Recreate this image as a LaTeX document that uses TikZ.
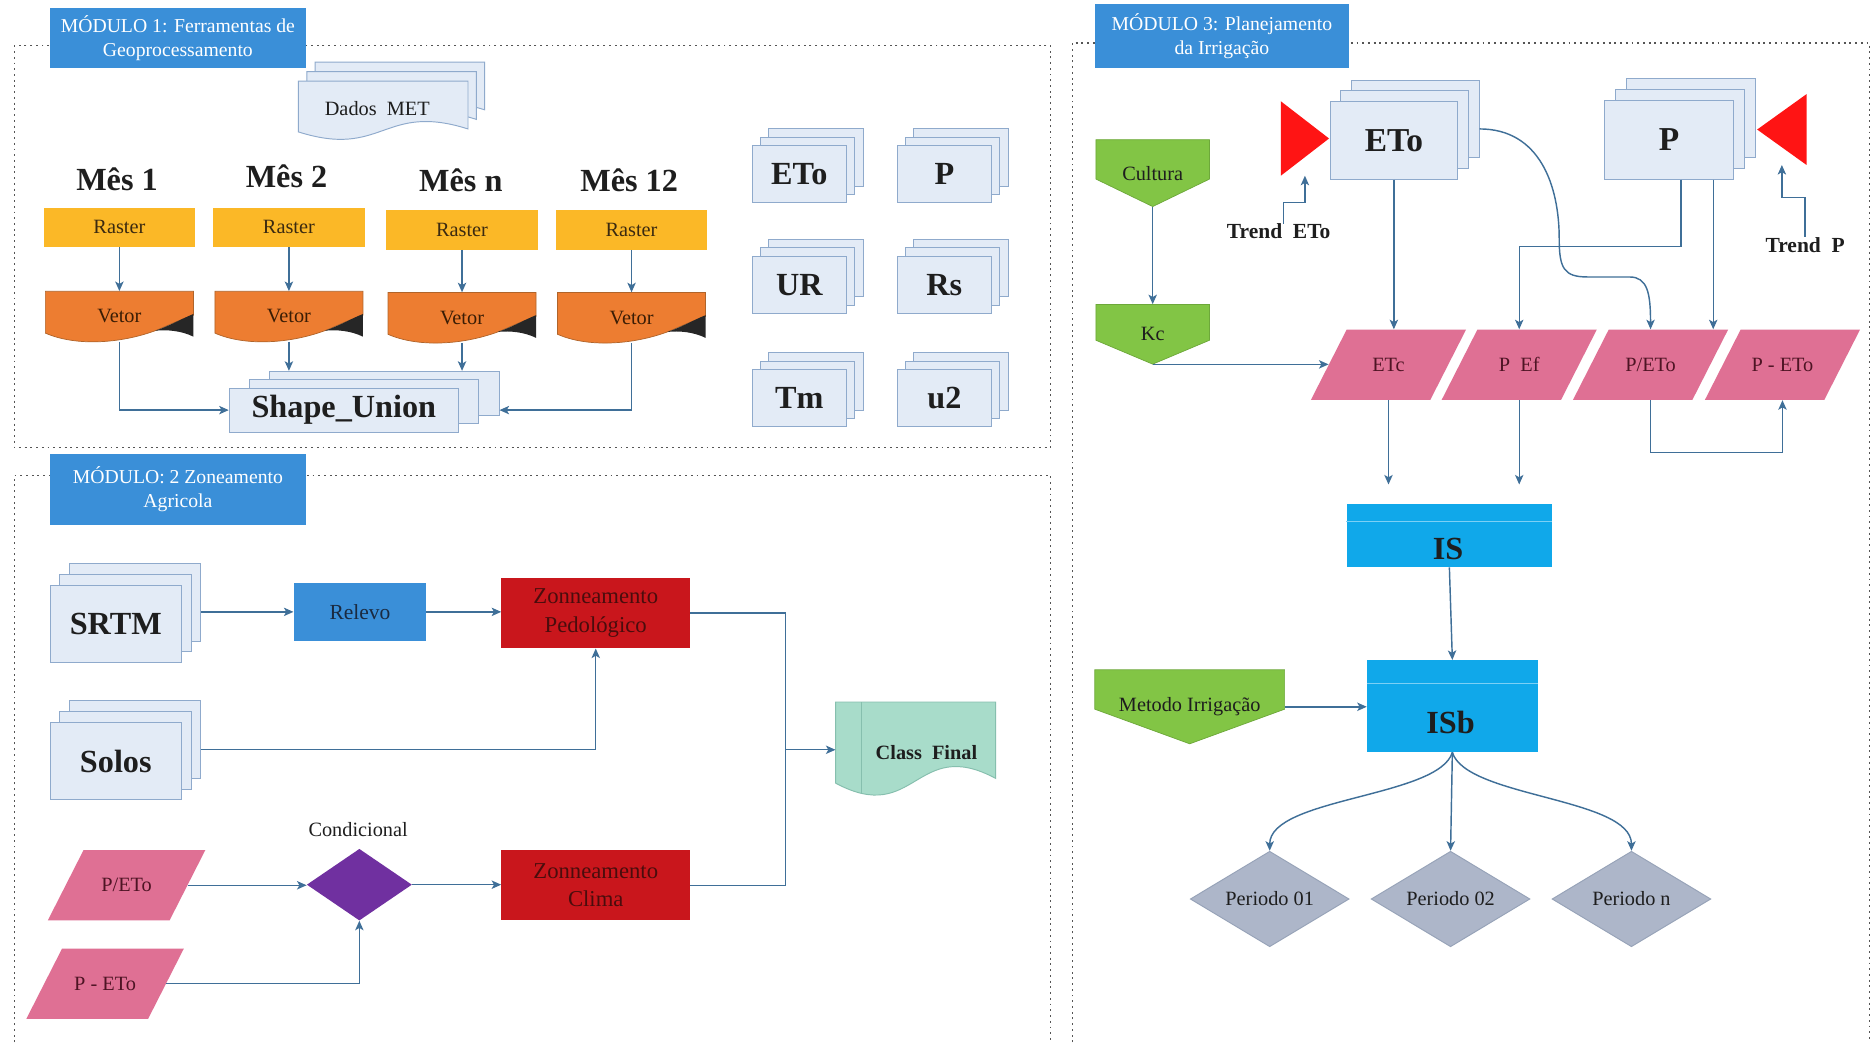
\documentclass[tikz,border=0pt]{standalone}
\usepackage{fontspec}
\setmainfont{Liberation Serif}
\usetikzlibrary{shapes.geometric,arrows.meta,calc}

\definecolor{arrowc}{HTML}{3F6F98}
\definecolor{framec}{HTML}{555555}
\definecolor{modblue}{HTML}{3A8FD8}
\definecolor{rasterc}{HTML}{FBB827}
\definecolor{rastertext}{HTML}{3B2A10}
\definecolor{vetorc}{HTML}{ED7D31}
\definecolor{vetord}{HTML}{B0642A}
\definecolor{vetortext}{HTML}{3A1D05}
\definecolor{pagefill}{HTML}{E3EBF6}
\definecolor{pagedraw}{HTML}{8FAACC}
\definecolor{textc}{HTML}{1E1E1E}
\definecolor{relevotext}{HTML}{1A2A40}
\definecolor{zonred}{HTML}{C9161C}
\definecolor{zontext}{HTML}{4A0D0D}
\definecolor{purplec}{HTML}{7030A0}
\definecolor{pinkc}{HTML}{DF7094}
\definecolor{pinktext}{HTML}{4E1424}
\definecolor{classc}{HTML}{A8DCCA}
\definecolor{classd}{HTML}{86BFAE}
\definecolor{greenc}{HTML}{82C545}
\definecolor{greend}{HTML}{6DA83A}
\definecolor{isblue}{HTML}{10A8EA}
\definecolor{isline}{HTML}{7CD0F5}
\definecolor{periodc}{HTML}{ADB6C9}
\definecolor{periodd}{HTML}{97A3B8}
\definecolor{redtri}{HTML}{FF1414}

\tikzset{
  arr/.style={draw=arrowc, line width=1.2pt, -{Stealth[length=8pt,width=7pt,inset=2pt]}},
  conn/.style={draw=arrowc, line width=1.2pt},
  frm/.style={draw=framec, line width=0.9pt, dash pattern=on 1.6pt off 3.2pt},
  modlab/.style={fill=modblue, text=white, align=center, inner sep=0pt, font=\fontsize{16.5}{20}\selectfont},
  pagebox/.style={fill=pagefill, draw=pagedraw, line width=0.8pt, inner sep=0pt, text=textc},
  docpg/.style={fill=pagefill, draw=pagedraw, line width=0.8pt},
  rasterbox/.style={fill=rasterc, text=rastertext, minimum width=127pt, minimum height=33pt, inner sep=0pt, font=\fontsize{17}{20}\selectfont},
  bigbold/.style={font=\fontsize{27}{30}\selectfont\bfseries, text=textc},
  normtxt/.style={font=\fontsize{17}{20}\selectfont, text=textc, inner sep=0pt},
  zon/.style={fill=zonred, minimum width=158pt, minimum height=59pt, inner sep=0pt, align=center, text=zontext, font=\fontsize{19}{24}\selectfont},
  perd/.style={diamond, aspect=1.66, fill=periodc, draw=periodd, line width=0.8pt, minimum width=133pt, minimum height=80pt, inner sep=0pt, font=\fontsize{17}{20}\selectfont, text=textc},
  isbox/.style={fill=isblue, inner sep=0pt},
}

% stacked pages: name, cx, cy, w, h, dx, dy, text
\newcommand\stackpages[8]{%
  \node[pagebox, minimum width=#4pt, minimum height=#5pt] (#1-b2) at (#2+2*#6, #3-2*#7) {};
  \node[pagebox, minimum width=#4pt, minimum height=#5pt] (#1-b1) at (#2+#6, #3-#7) {};
  \node[pagebox, minimum width=#4pt, minimum height=#5pt] (#1) at (#2,#3) {#8};
}
% wavy document: left, top, w, h, style
\newcommand\docwave[5]{%
  \path[#5] (#1,#2) -- ++(#3,0) -- ++(0,0.8*#4) .. controls (#1+0.5*#3,#2+0.35*#4) and (#1+0.5*#3,#2+1.3*#4) .. (#1,#2+0.85*#4) -- cycle;
}
% vetor shape: name, left, top
\newcommand\vetorshape[3]{%
  \begin{scope}[shift={(#2,#3)}]
    \path[fill=vetorc, draw=vetord, line width=0.6pt] (0,0) -- (124,0) -- (124,20) .. controls (112,24) and (102,29) .. (92,33) .. controls (62,44) and (25,46) .. (0,35) -- cycle;
    \fill[black!85] (92,33) .. controls (104,29) and (114,23) .. (124,19) -- (124,38) .. controls (114,33) and (102,32) .. (92,33) -- cycle;
    \node[inner sep=0pt, minimum width=124pt, minimum height=42pt, text=vetortext, font=\fontsize{17}{20}\selectfont] (#1) at (62,21) {Vetor};
  \end{scope}
}
% parallelogram: name, cx, cy, edge width, text
\newcommand\pgram[5]{%
  \path[fill=pinkc] (#2-#4/2-15,#3+29.5) -- (#2+#4/2-15,#3+29.5) -- (#2+#4/2+15,#3-29.5) -- (#2-#4/2+15,#3-29.5) -- cycle;
  \node[inner sep=0pt, minimum width=#4pt, minimum height=59pt, text=pinktext, font=\fontsize{17}{20}\selectfont] (#1) at (#2,#3) {#5};
}
% green pentagon: name, left, top, w, h, side height, text
\newcommand\greenpent[7]{%
  \path[fill=greenc, draw=greend, line width=0.6pt] (#2,#3) -- ++(#4,0) -- ++(0,#6) -- (#2+#4/2,#3+#5) -- (#2,#3+#6) -- cycle;
  \node[inner sep=0pt, minimum width=#4pt, minimum height=#5pt, text=textc, font=\fontsize{17}{20}\selectfont] (#1) at (#2+#4/2,#3+#5/2) {#7};
}

\begin{document}
\begin{tikzpicture}[x=1pt,y=-1pt]
\useasboundingbox (0,0) rectangle (1568,873);
\fill[white] (0,0) rectangle (1568,873);

% ---------- frames ----------
\draw[frm] (12,38) rectangle (880,375);
\draw[frm] (12,873) -- (12,398) -- (880,398) -- (880,873);
\draw[frm] (898,873) -- (898,36) -- (1566,36) -- (1566,873);

\node[modlab, minimum width=214pt, minimum height=50pt] (m1) at (149,32) {MÓDULO 1: Ferramentas de\\Geoprocessamento};
\node[modlab, minimum width=214pt, minimum height=60pt] (m2) at (149,410) {MÓDULO: 2 Zoneamento\\Agricola};
\node[modlab, minimum width=213pt, minimum height=54pt] (m3) at (1023.5,30) {MÓDULO 3: Planejamento\\da Irrigação};

% ---------- module 1 ----------
\docwave{264}{52}{142}{50}{docpg}
\docwave{257}{60}{142}{50}{docpg}
\docwave{250}{68}{142}{50}{docpg}
\node[normtxt] (met) at (316,91) {Dados~~MET};

\node[bigbold] (mes1) at (98,150) {Mês 1};
\node[bigbold] (mes2) at (240,148) {Mês 2};
\node[bigbold] (mesn) at (386,151) {Mês n};
\node[bigbold] (mes12) at (527,151) {Mês 12};

\node[rasterbox] (r1) at (100,190.5) {Raster};
\node[rasterbox] (r2) at (242,190.5) {Raster};
\node[rasterbox] (rn) at (387,192.5) {Raster};
\node[rasterbox] (r12) at (529,192.5) {Raster};

\vetorshape{v1}{38}{244}
\vetorshape{v2}{180}{244}
\vetorshape{vn}{325}{245}
\vetorshape{v12}{467}{245}

\stackpages{su}{288}{343.5}{192}{37}{17}{7}{\fontsize{27}{30}\selectfont\bfseries Shape\_Union}

\stackpages{etoa}{669.5}{146}{79}{48}{7}{7}{\fontsize{27}{30}\selectfont\bfseries ETo}
\stackpages{pa}{791}{146}{79}{48}{7}{7}{\fontsize{27}{30}\selectfont\bfseries P}
\stackpages{ur}{669.5}{238.5}{79}{48}{7}{7}{\fontsize{27}{30}\selectfont\bfseries UR}
\stackpages{rs}{791}{238.5}{79}{48}{7}{7}{\fontsize{27}{30}\selectfont\bfseries Rs}
\stackpages{tm}{669.5}{333.5}{79}{48}{7}{7}{\fontsize{27}{30}\selectfont\bfseries Tm}
\stackpages{u2}{791}{333.5}{79}{48}{7}{7}{\fontsize{27}{30}\selectfont\bfseries u2}

\draw[arr] (r1.south) -- (r1.south |- v1.north);
\draw[arr] (r2.south) -- (r2.south |- v2.north);
\draw[arr] (rn.south) -- (rn.south |- vn.north);
\draw[arr] (r12.south) -- (r12.south |- v12.north);
\draw[arr] (v1.south) |- (su.west);
\draw[arr] (v2.south) -- (v2.south |- su-b2.north);
\draw[arr] (vn.south) -- (vn.south |- su-b2.north);
\draw[arr] (v12.south) |- (su-b2.east |- su.west);

% ---------- module 2 ----------
\stackpages{srtm}{97}{522.5}{110}{65}{8}{9}{\fontsize{27}{30}\selectfont\bfseries SRTM}
\stackpages{solos}{97}{637.5}{110}{65}{8}{9}{\fontsize{27}{30}\selectfont\bfseries Solos}
\node[fill=modblue, minimum width=111pt, minimum height=49pt, inner sep=0pt, text=relevotext, font=\fontsize{18}{21}\selectfont] (relevo) at (301.5,512.5) {Relevo};
\node[zon] (zped) at (499,513.5) {Zonneamento\\Pedológico};
\node[zon] (zclima) at (499,741.5) {Zonneamento\\Clima};
\node[diamond, aspect=1.47, fill=purplec, minimum width=88pt, minimum height=60pt, inner sep=0pt] (cond) at (301,741) {};
\node[normtxt] (condt) at (300,695) {Condicional};
\pgram{pe2}{106}{741.5}{102}{P/ETo}
\pgram{pm2}{88}{824}{102}{P - ETo}

\docwave{700}{588}{134}{80}{fill=classc, draw=classd, line width=0.8pt}
\draw[classd, line width=0.8pt] (721.5,588) -- (721.5,665);
\node[inner sep=0pt, minimum width=134pt, minimum height=80pt] (cf) at (767,628) {};
\node[normtxt, font=\fontsize{17}{20}\selectfont\bfseries] (cft) at (776,630) {Class~~Final};
\coordinate (jn) at (658,628);

\draw[arr] (srtm-b2.east |- relevo.west) -- (relevo.west);
\draw[arr] (relevo.east) -- (relevo.east -| zped.west);
\draw[arr] ([yshift=-8.5pt]solos-b2.east) -| (zped.south);
\draw[conn] (zped.east) -| (jn);
\draw[conn] (zclima.east) -| (jn);
\draw[arr] (jn) -- (jn -| cf.west);
\draw[arr] (pe2.east) -- (pe2.east -| cond.west);
\draw[arr] (cond.east) -- (cond.east -| zclima.west);
\draw[arr] (pm2.east) -| (cond.south);

% ---------- module 3 ----------
\greenpent{cultura}{918}{117}{95}{56}{33}{Cultura}
\greenpent{kc}{918}{255}{95}{50}{30}{Kc}
\greenpent{metodo}{917}{561}{159}{62}{33}{Metodo Irrigação}

\node[inner sep=0pt, minimum width=40pt, minimum height=62pt] (trE) at (1093,116) {};
\fill[redtri] (trE.north west) -- (trE.south west) -- (trE.east) -- cycle;
\node[inner sep=0pt, minimum width=41pt, minimum height=59pt] (trP) at (1492.5,108.5) {};
\fill[redtri] (trP.north east) -- (trP.south east) -- (trP.west) -- cycle;

\stackpages{eto3}{1167.5}{117.5}{107}{65}{9}{9}{\fontsize{28}{30}\selectfont\bfseries ETo}
\stackpages{p3}{1398}{117}{108}{66}{9}{9}{\fontsize{28}{30}\selectfont\bfseries P}

\node[normtxt, font=\fontsize{18}{20}\selectfont\bfseries] (trendE) at (1071,194) {Trend~~ETo};
\node[normtxt, font=\fontsize{18}{20}\selectfont\bfseries] (trendP) at (1512,205) {Trend~~P};

\pgram{etc}{1163}{305.5}{100}{ETc}
\pgram{pef}{1272.5}{305.5}{100}{P~~Ef}
\pgram{pe3}{1382.5}{305.5}{100}{P/ETo}
\pgram{pm3}{1493}{305.5}{100}{P - ETo}

\node[isbox, minimum width=172pt, minimum height=53pt] (is) at (1214,448.5) {};
\draw[isline, line width=1pt] ([yshift=-15pt]is.north west) -- ([yshift=-15pt]is.north east);
\node[bigbold] (ist) at (1213,460) {IS};
\node[isbox, minimum width=143pt, minimum height=77pt] (isb) at (1216.5,591.5) {};
\draw[isline, line width=1pt] ([yshift=-20pt]isb.north west) -- ([yshift=-20pt]isb.north east);
\node[bigbold] (isbt) at (1215,605) {ISb};

\node[perd] (per1) at (1063.5,753) {Periodo 01};
\node[perd] (per2) at (1215,753) {Periodo 02};
\node[perd] (per3) at (1366.5,753) {Periodo n};

\draw[arr] (cultura.south) -- (kc.north);
\draw[arr] (kc.south) -- (kc.south -| etc.west);
\draw[arr] ([xshift=4pt]trendE.north) -- ++(0,-18) -| (trE.south);
\draw[arr] (trendP.north) -- ++(0,-33) -| (trP.south);
\draw[arr] (eto3.south) -- (eto3.south |- etc.north);
\draw[arr] ([yshift=-8.5pt]eto3-b2.east) .. controls +(50,0) and +(0,-45) .. (1306,200) .. controls +(0,25) and +(-20,0) .. (1330,232) -- (1365,232) .. controls +(15,0) and +(0,-30) .. (pe3.north);
\draw[arr] ([xshift=10pt]p3.south) -- ++(0,56) -| (pef.north);
\draw[arr] ([xshift=37pt]p3.south) -- ([xshift=37pt]p3.south |- pe3.north);
\draw[arr] (pe3.south) -- ++(0,44) -| (pm3.south);
\draw[arr, shorten >=16pt] (etc.south) -- (etc.south |- is.north);
\draw[arr, shorten >=16pt] (pef.south) -- (pef.south |- is.north);
\draw[arr] (is.south) -- (isb.north);
\draw[arr] (metodo.east) -- (metodo.east -| isb.west);
\draw[arr] (isb.south) .. controls (1205,668) and (1063.5,668) .. (per1.north);
\draw[arr] (isb.south) -- (per2.north);
\draw[arr] (isb.south) .. controls (1228,668) and (1366.5,668) .. (per3.north);
\end{tikzpicture}
\end{document}
